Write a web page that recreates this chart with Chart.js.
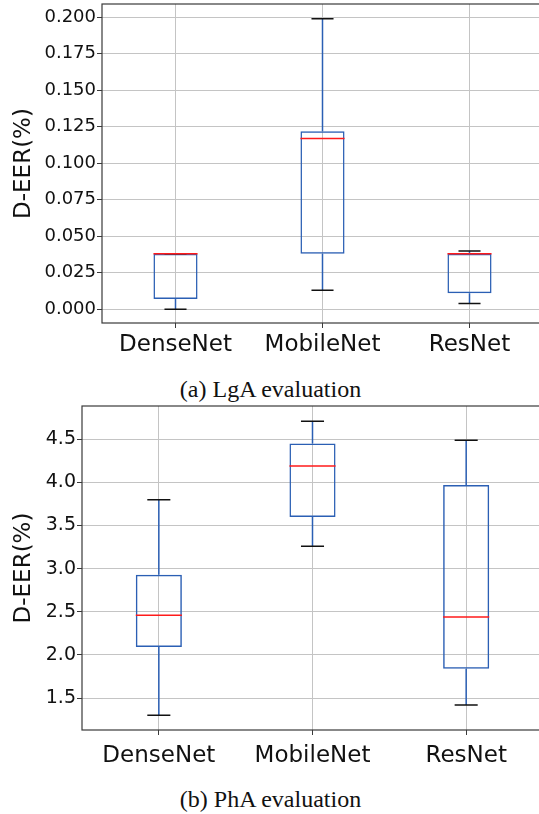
<!DOCTYPE html>
<html>
<head>
<meta charset="utf-8">
<script src="https://cdn.jsdelivr.net/npm/chart.js@4.4.0/dist/chart.umd.min.js"></script>
<style>
  html, body { margin: 0; padding: 0; background: #fff; overflow: hidden; }
  #page { position: relative; width: 539px; height: 814px; overflow: hidden; }
  canvas { position: absolute; left: 0; }
  .cap { position: absolute; left: 0; width: 541px; text-align: center;
         font-family: "Liberation Serif", "Times New Roman", serif; font-size: 24px;
         line-height: 24px; color: #111; }
</style>
</head>
<body>
<div id="page">
  <canvas id="lgaChart" width="543" height="365" style="top:0px"></canvas>
  <div class="cap" style="top:377px">(a) LgA evaluation</div>
  <canvas id="phaChart" width="543" height="372" style="top:398px"></canvas>
  <div class="cap" style="top:787px">(b) PhA evaluation</div>
</div>
<script>
const models = ["DenseNet", "MobileNet", "ResNet"];

// (a) LgA evaluation
const lgaLow    = [0.000, 0.013, 0.004];
const lgaQ1     = [0.007, 0.038, 0.011];
const lgaMedian = [0.038, 0.117, 0.038];
const lgaQ3     = [0.038, 0.122, 0.038];
const lgaHigh   = [0.038, 0.199, 0.040];
const lgaTicks  = [0.000, 0.025, 0.050, 0.075, 0.100, 0.125, 0.150, 0.175, 0.200];

// (b) PhA evaluation
const phaLow    = [1.30, 3.26, 1.42];
const phaQ1     = [2.09, 3.60, 1.84];
const phaMedian = [2.46, 4.19, 2.44];
const phaQ3     = [2.93, 4.45, 3.97];
const phaHigh   = [3.80, 4.71, 4.49];
const phaTicks  = [1.5, 2.0, 2.5, 3.0, 3.5, 4.0, 4.5];

const boxBlue = "#2b5fb4";
const gridGray = "#c4c4c4";
const frameGray = "#3a3a3a";

// whiskers, caps, medians and the frame, placed through the chart's own scales
const boxPlot = {
    id: "boxPlot",
    afterDatasetsDraw(chart, args, opts) {
        const ctx = chart.ctx;
        const x = chart.scales.x, y = chart.scales.y;
        const meta = chart.getDatasetMeta(0);
        ctx.save();
        ctx.lineWidth = 1.5;
        models.forEach((m, i) => {
            const cx = x.getPixelForValue(i);
            const half = meta.data[i].width / 2;
            const cap = half / 2;
            // whiskers
            ctx.strokeStyle = boxBlue;
            ctx.beginPath();
            ctx.moveTo(cx, y.getPixelForValue(opts.q3[i]));
            ctx.lineTo(cx, y.getPixelForValue(opts.high[i]));
            ctx.moveTo(cx, y.getPixelForValue(opts.q1[i]));
            ctx.lineTo(cx, y.getPixelForValue(opts.low[i]));
            ctx.stroke();
            // caps
            ctx.strokeStyle = "#111";
            ctx.beginPath();
            [opts.high[i], opts.low[i]].forEach(v => {
                const py = y.getPixelForValue(v);
                ctx.moveTo(cx - cap, py);
                ctx.lineTo(cx + cap, py);
            });
            ctx.stroke();
            // median
            ctx.strokeStyle = "#ff1a1a";
            ctx.beginPath();
            const my = y.getPixelForValue(opts.median[i]);
            ctx.moveTo(cx - half, my);
            ctx.lineTo(cx + half, my);
            ctx.stroke();
        });
        const a = chart.chartArea;
        ctx.strokeStyle = frameGray;
        ctx.lineWidth = 1.2;
        ctx.strokeRect(a.left, a.top, a.right - a.left, a.bottom - a.top);
        ctx.restore();
    }
};

function makeChart(id, q1, median, q3, low, high, ticks, fmt, yMin, yMax, axisWidth, axisHeight, padTop, tickSize, xPad) {
    return new Chart(document.getElementById(id), {
        type: "bar",
        data: {
            labels: models,
            datasets: [{
                data: models.map((m, i) => [q1[i], q3[i]]),
                backgroundColor: "rgba(0,0,0,0)",
                borderColor: boxBlue,
                borderWidth: 1.5,
                borderSkipped: false,
                categoryPercentage: 1.0,
                barPercentage: 0.3
            }]
        },
        options: {
            responsive: false,
            animation: false,
            devicePixelRatio: 1,
            layout: { padding: { top: padTop, right: 0, left: 0, bottom: 0 } },
            plugins: {
                legend: { display: false },
                tooltip: { enabled: false },
                boxPlot: { q1: q1, median: median, q3: q3, low: low, high: high }
            },
            scales: {
                x: {
                    offset: true,
                    grid: { offset: false, color: gridGray, lineWidth: 1, tickColor: frameGray, tickLength: 5 },
                    border: { display: false },
                    ticks: { color: "#111", padding: xPad, font: { family: "DejaVu Sans", size: 23 } },
                    afterFit: s => { s.height = axisHeight; s.paddingLeft = 0; s.paddingRight = 0; }
                },
                y: {
                    min: yMin,
                    max: yMax,
                    afterBuildTicks: s => { s.ticks = ticks.map(v => ({ value: v })); },
                    grid: { color: gridGray, lineWidth: 1, tickColor: frameGray, tickLength: 5 },
                    border: { display: false },
                    ticks: { color: "#111", padding: 1, font: { family: "DejaVu Sans", size: tickSize },
                             callback: v => fmt(v) },
                    title: { display: true, text: "D-EER(%)", color: "#111", padding: { top: 10, bottom: 0 },
                             font: { family: "DejaVu Sans", size: 23, weight: "normal" } },
                    afterFit: s => { s.width = axisWidth; s.paddingTop = 0; s.paddingBottom = 0; }
                }
            }
        },
        plugins: [boxPlot]
    });
}

makeChart("lgaChart", lgaQ1, lgaMedian, lgaQ3, lgaLow, lgaHigh, lgaTicks,
          v => v.toFixed(3), -0.0094, 0.2091, 102, 42, 4, 18, 3);
makeChart("phaChart", phaQ1, phaMedian, phaQ3, phaLow, phaHigh, phaTicks,
          v => v.toFixed(1), 1.129, 4.886, 82, 40, 8, 19, 7);
</script>
</body>
</html>
